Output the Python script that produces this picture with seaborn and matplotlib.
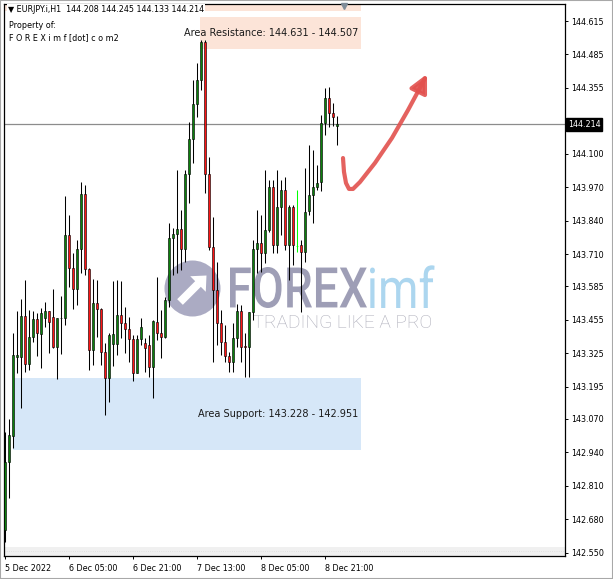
import numpy as np
import pandas as pd
import seaborn as sns
import matplotlib.pyplot as plt
from matplotlib.patches import Rectangle, Circle, PathPatch, FancyArrow
from matplotlib.textpath import TextPath
from matplotlib.font_manager import FontProperties
from matplotlib.transforms import Affine2D, IdentityTransform, blended_transform_factory

sns.set_theme(style="white")
plt.rcParams['font.family'] = ['DejaVu Sans']

# --- data (EURJPY H1) ---
symbol = "EURJPY.i,H1"
opens = [142.639, 142.904, 143.005, 143.312, 143.312, 143.470, 143.282, 143.387, 143.457, 143.399,
         143.461, 143.488, 143.465, 143.351, 143.461, 143.461, 143.784, 143.655, 143.573, 143.729,
         143.943, 143.651, 143.338, 143.519, 143.496, 143.331, 143.230, 143.360, 143.360, 143.473,
         143.441, 143.418, 143.379, 143.250, 143.379, 143.364, 143.357, 143.273, 143.448, 143.403,
         143.387, 143.532, 143.771, 143.788, 143.808, 143.729, 144.021, 144.156, 144.293, 144.386,
         144.533, 144.021, 143.739, 143.571, 143.441, 143.369, 143.315, 143.292, 143.383, 143.488,
         143.353, 143.348, 143.484, 143.729, 143.752, 143.716, 143.804, 143.972, 143.745, 143.894,
         143.959, 143.745, 143.894, 143.740, 143.745, 143.719, 143.878, 143.940, 143.972, 143.990,
         144.218, 144.315, 144.257, 144.208]
highs = [143.021, 143.069, 143.405, 143.489, 143.536, 143.610, 143.493, 143.490, 143.480, 143.500,
         143.524, 143.489, 143.573, 143.462, 143.549, 143.936, 143.862, 143.713, 143.765, 143.991,
         143.978, 143.655, 143.612, 143.610, 143.500, 143.364, 143.403, 143.607, 143.610, 143.607,
         143.506, 143.467, 143.396, 143.396, 143.461, 143.383, 143.396, 143.454, 143.620, 143.493,
         143.545, 143.830, 143.810, 144.037, 143.881, 144.037, 144.224, 144.386, 144.451, 144.541,
         144.541, 144.088, 143.855, 143.681, 143.493, 143.435, 143.331, 143.441, 143.518, 143.514,
         143.404, 143.486, 143.765, 143.881, 143.862, 144.037, 143.998, 143.998, 144.037, 143.998,
         144.011, 143.901, 143.901, 143.959, 143.765, 144.043, 144.134, 144.114, 144.056, 144.250,
         144.354, 144.358, 144.297, 144.245]
lows = [142.594, 142.764, 142.959, 143.250, 143.114, 143.254, 143.260, 143.370, 143.316, 143.269,
        143.428, 143.327, 143.347, 143.226, 143.321, 143.435, 143.584, 143.496, 143.513, 143.636,
        143.629, 143.260, 143.280, 143.389, 143.280, 143.086, 143.137, 143.276, 143.318, 143.383,
        143.325, 143.292, 143.217, 143.248, 143.357, 143.254, 143.234, 143.151, 143.377, 143.306,
        143.383, 143.506, 143.629, 143.636, 143.648, 143.681, 143.907, 144.063, 144.244, 144.347,
        143.948, 143.726, 143.292, 143.357, 143.318, 143.292, 143.254, 143.254, 143.351, 143.292,
        143.234, 143.234, 143.455, 143.636, 143.642, 143.674, 143.796, 143.713, 143.713, 143.784,
        143.726, 143.610, 143.668, 143.719, 143.486, 143.679, 143.862, 143.831, 143.959, 143.956,
        144.172, 144.205, 144.207, 144.133]
closes = [142.904, 143.008, 143.318, 143.318, 143.470, 143.282, 143.387, 143.457, 143.403, 143.480,
          143.488, 143.448, 143.351, 143.461, 143.462, 143.784, 143.655, 143.573, 143.729, 143.943,
          143.651, 143.338, 143.519, 143.496, 143.331, 143.230, 143.396, 143.399, 143.473, 143.441,
          143.418, 143.379, 143.250, 143.379, 143.426, 143.344, 143.273, 143.452, 143.403, 143.387,
          143.532, 143.771, 143.788, 143.808, 143.729, 144.021, 144.156, 144.293, 144.386, 144.533,
          144.021, 143.739, 143.571, 143.441, 143.369, 143.315, 143.292, 143.383, 143.488, 143.351,
          143.349, 143.484, 143.729, 143.752, 143.716, 143.804, 143.972, 143.745, 143.894, 143.959,
          143.745, 143.894, 143.745, 143.740, 143.719, 143.875, 143.940, 143.972, 143.986, 144.218,
          144.315, 144.257, 144.244, 144.214]

first_bar = "2022-12-05 13:00"
last_price = 144.214
resistance = (144.631, 144.507)
support = (143.228, 142.951)
upper_zone_low = 144.654
price_ticks = [144.615, 144.485, 144.355, 144.100, 143.970, 143.840, 143.710, 143.585,
               143.455, 143.325, 143.195, 143.070, 142.940, 142.810, 142.680, 142.550]
time_tick_every = 16
zone_end = 89  # bars
# hand-drawn check arrow (bar index, price)
check_path = [(84.5, 144.083), (84.75, 144.029), (85.25, 143.986), (86.0, 143.963), (87.0, 143.963),
              (88.75, 143.990), (92.5, 144.064), (96.75, 144.161), (100.75, 144.269), (104.25, 144.370)]
check_tip = (105.5, 144.409)

df = pd.DataFrame({"open": opens, "high": highs, "low": lows, "close": closes},
                  index=pd.date_range(first_bar, periods=len(opens), freq="h"))
df["x"] = np.arange(len(df))

W, H = 613, 579
fig = plt.figure(figsize=(W / 100, H / 100), dpi=100)
ax = fig.add_axes([4 / W, 23 / H, 561 / W, 552 / H])
ax.set_facecolor("white")

# zones
ax.add_patch(Rectangle((-1, upper_zone_low), zone_end + 1, 0.1, color="#fce4d8", lw=0, zorder=0.3))
ax.add_patch(Rectangle((48.75, resistance[1]), zone_end - 48.75, resistance[0] - resistance[1],
                       color="#fce4d8", lw=0, zorder=0.3))
ax.add_patch(Rectangle((2, support[1]), zone_end - 2, support[0] - support[1],
                       color="#d6e7f8", lw=0, zorder=0.3))
ax.text(zone_end - 0.75, sum(resistance) / 2, f"Area Resistance: {resistance[0]:.3f} - {resistance[1]:.3f}",
        ha="right", va="center", fontsize=7, color="#1a1a1a", zorder=5)
ax.text(zone_end - 0.75, sum(support) / 2, f"Area Support: {support[0]:.3f} - {support[1]:.3f}",
        ha="right", va="center", fontsize=7, color="#1a1a1a", zorder=5)

ax.axhspan(142.0, 142.573, color="#f0f0f0", lw=0, zorder=0.2)
ax.axhline(142.556, color="#dcdcdc", lw=0.6, ls=":", zorder=0.25)

# watermark (pixel coordinates)
ax.add_patch(Circle((192.5, H - 288.5), 28, transform=IdentityTransform(), color="#9d9db9",
                    alpha=0.85, lw=0, zorder=0.5, clip_on=False))
ax.add_patch(FancyArrow(180, H - 302, 18, 18, width=8, head_width=22, head_length=12,
                        transform=IdentityTransform(), color="white", lw=0, zorder=0.55, clip_on=False))
mark = FontProperties(family="Roboto", weight="medium")
tp = TextPath((0, 0), "FOREX", size=1, prop=mark)
bb = tp.get_extents()
sx, sy = 137 / bb.width, 41 / bb.height
tr = Affine2D().translate(-bb.x0, -bb.y0).scale(sx, sy).translate(230, H - 308)
ax.add_patch(PathPatch(tp, transform=tr, color="#9494ae", alpha=0.9, lw=0, zorder=0.5, clip_on=False))
tp2 = TextPath((0, 0), "imf", size=1, prop=FontProperties(family="Roboto"))
tr2 = Affine2D().translate(-tp2.get_extents().x0, 0).scale(sx, sy).translate(370, H - 308)
ax.add_patch(PathPatch(tp2, transform=tr2, color="#acd6ef", lw=0, zorder=0.5, clip_on=False))
tp3 = TextPath((0, 0), "TRADING LIKE A PRO", size=1, prop=FontProperties(family="Roboto", weight="light"))
bb3 = tp3.get_extents()
tr3 = Affine2D().translate(-bb3.x0, -bb3.y0).scale(178 / bb3.width, 13 / bb3.height).translate(253, H - 328)
ax.add_patch(PathPatch(tp3, transform=tr3, color="#a9a9b6", lw=0, zorder=0.5, clip_on=False))

# current price line
ax.axhline(last_price, color="#8c8c8c", lw=0.9, zorder=1)

# candles
doji = df["open"] == df["close"]
up = df["close"] > df["open"]
fills = np.where(doji, "#00ff00", np.where(up, "#0b800b", "#ff1414"))
edges = np.where(doji, "#00ff00", "black")
ax.vlines(df["x"], df["low"], df["high"], colors=edges, lw=0.75, zorder=3)
body_lo = np.minimum(df["open"], df["close"])
body_h = np.maximum(np.abs(df["close"] - df["open"]), 0.0008)
ax.bar(df["x"], body_h, bottom=body_lo, width=0.74, color=fills, edgecolor=edges, lw=0.42, zorder=4)

# red check arrow
cx, cy = zip(*check_path)
ax.plot(cx, cy, color="#e2514e", lw=3.0, alpha=0.9, solid_capstyle="round", solid_joinstyle="round", zorder=6)
ax.annotate("", xy=check_tip, xytext=check_path[-1],
            arrowprops=dict(arrowstyle="-|>,head_length=0.9,head_width=0.45", color="#e2514e", lw=3.0,
                            alpha=0.9, shrinkA=0, shrinkB=0), zorder=6)

# shift marker
ax.plot([84.75], [144.673], marker="v", ms=5, color="#7f8c99", zorder=6, clip_on=False)

ax.set_xlim(-0.25, 140)
ax.set_ylim(142.538, 144.681)

# axes styling
for s in ax.spines.values():
    s.set_color("black")
    s.set_linewidth(0.9)
ax.yaxis.tick_right()
ax.set_yticks(price_ticks)
ax.set_yticklabels([f"{v:.3f}" for v in price_ticks])
xt = df["x"].iloc[::time_tick_every]
xl = [d.strftime("%-d %b %Y") if i == 0 else d.strftime("%-d %b %H:%M")
      for i, d in enumerate(df.index[::time_tick_every])]
ax.set_xticks(xt)
ax.set_xticklabels(xl)
for lab in ax.get_xticklabels():
    lab.set_ha("left")
ax.tick_params(axis="y", which="both", right=True, length=2.5, width=0.7, pad=2, labelsize=5.8,
               colors="black", direction="out")
ax.tick_params(axis="x", which="both", bottom=True, length=2.5, width=0.7, pad=3, labelsize=5.8,
               colors="black", direction="out")
ax.grid(False)

# current price label
ax.text(1.005, last_price, f"{last_price:.3f}", transform=blended_transform_factory(ax.transAxes, ax.transData),
        ha="left", va="center", fontsize=5.8, color="white", zorder=7, clip_on=False,
        bbox=dict(boxstyle="square,pad=0.25", fc="black", ec="black"))

# header texts
fig.text(8 / W, 1 - 10 / H, f"\u25bc {symbol}  {opens[-1]:.3f} {highs[-1]:.3f} {lows[-1]:.3f} {closes[-1]:.3f}",
         fontsize=5.8, va="center", ha="left", color="black",
         bbox=dict(boxstyle="square,pad=0.15", fc="white", ec="none"))
fig.text(9 / W, 1 - 25 / H, "Property of:", fontsize=5.8, va="center", ha="left", color="black")
fig.text(9 / W, 1 - 38 / H, "F O R E X i m f [dot] c o m2", fontsize=5.8, va="center", ha="left", color="black")

fig.add_artist(Rectangle((0, 0), 1, 1, transform=fig.transFigure, fill=False, edgecolor="#a8a8a8", lw=1.5))

fig.savefig("out.png", dpi=100)
